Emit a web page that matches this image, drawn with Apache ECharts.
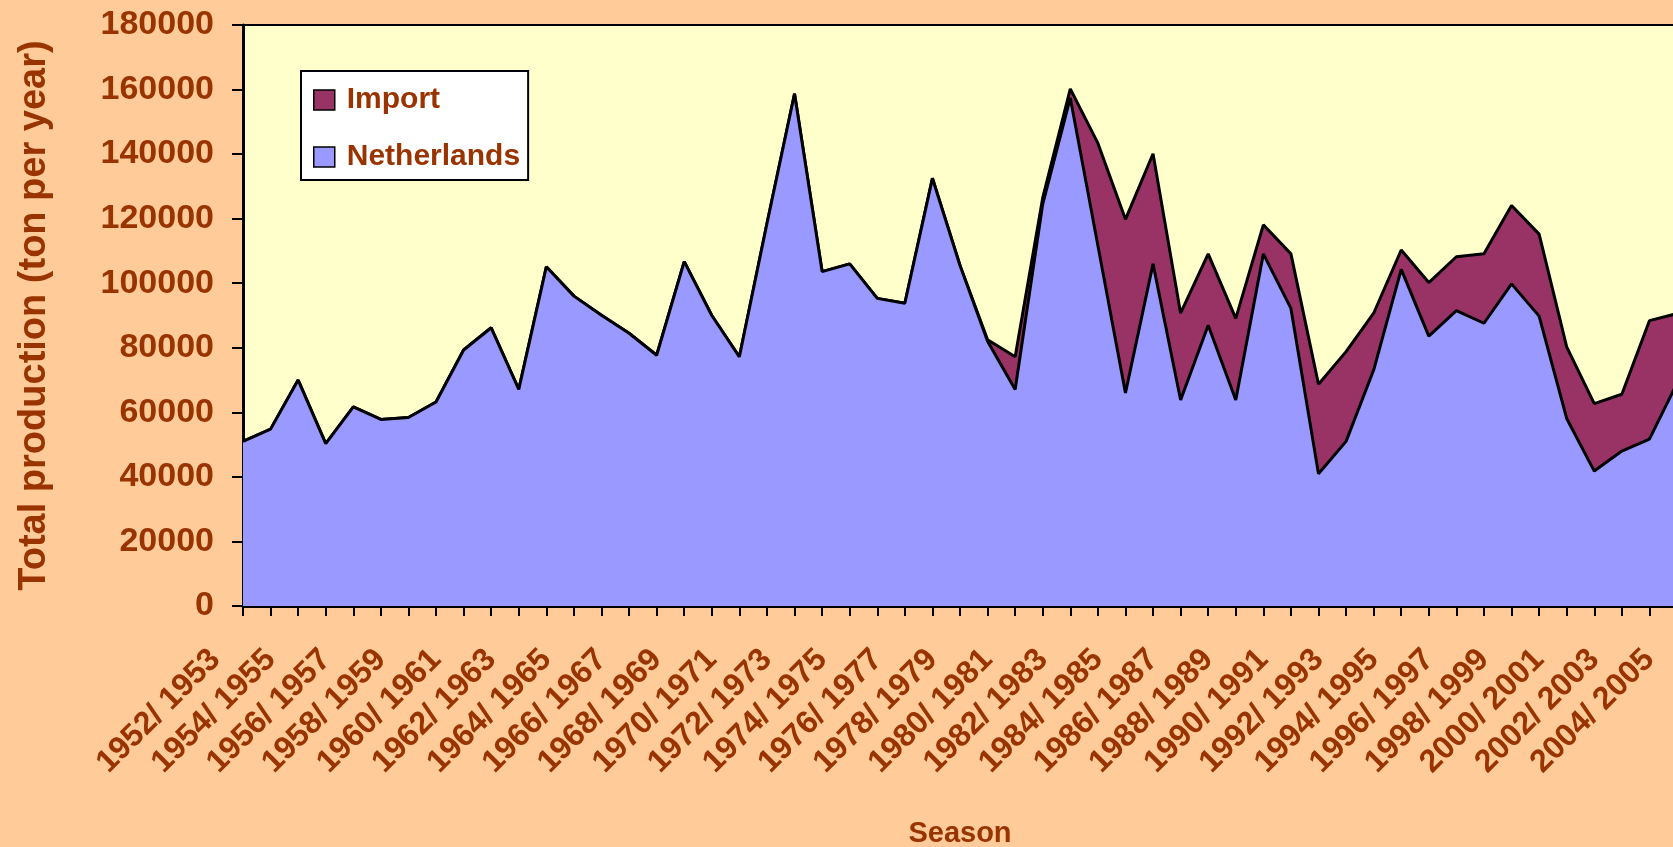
<!DOCTYPE html>
<html>
<head>
<meta charset="utf-8">
<title>Total production</title>
<script src="https://cdn.jsdelivr.net/npm/echarts/dist/echarts.min.js"></script>
<style>
  html, body { margin: 0; padding: 0; background: #FFCC99; overflow: hidden; }
  #main { width: 1673px; height: 847px; }
</style>
</head>
<body>
<div id="main"></div>
<script>
var chart = echarts.init(document.getElementById('main'));

var seasons = ['1952/ 1953', '1953/ 1954', '1954/ 1955', '1955/ 1956', '1956/ 1957', '1957/ 1958',
  '1958/ 1959', '1959/ 1960', '1960/ 1961', '1961/ 1962', '1962/ 1963', '1963/ 1964', '1964/ 1965',
  '1965/ 1966', '1966/ 1967', '1967/ 1968', '1968/ 1969', '1969/ 1970', '1970/ 1971', '1971/ 1972',
  '1972/ 1973', '1973/ 1974', '1974/ 1975', '1975/ 1976', '1976/ 1977', '1977/ 1978', '1978/ 1979',
  '1979/ 1980', '1980/ 1981', '1981/ 1982', '1982/ 1983', '1983/ 1984', '1984/ 1985', '1985/ 1986',
  '1986/ 1987', '1987/ 1988', '1988/ 1989', '1989/ 1990', '1990/ 1991', '1991/ 1992', '1992/ 1993',
  '1993/ 1994', '1994/ 1995', '1995/ 1996', '1996/ 1997', '1997/ 1998', '1998/ 1999', '1999/ 2000',
  '2000/ 2001', '2001/ 2002', '2002/ 2003', '2003/ 2004', '2004/ 2005'];

var netherlands = [51000, 54800, 70000, 50300, 61700, 57800, 58400, 63200, 79300, 86200,
  67100, 105100, 96000, 90100, 84500, 77700, 106700, 90000, 77200, 118500,
  158700, 103600, 106000, 95300, 93800, 132500, 105500, 82000, 67100, 124500,
  157400, 111700, 66000, 106000, 63800, 87000, 63800, 109100, 92200, 41000,
  51000, 73100, 104300, 83600, 91500, 87600, 99800, 89800, 58100, 41800,
  48000, 51700, 69000];

var importTon = [0, 0, 0, 0, 0, 0, 0, 0, 0, 0,
  0, 0, 0, 0, 0, 0, 0, 0, 0, 0,
  0, 0, 0, 0, 0, 0, 0, 500, 10100, 2000,
  2800, 31700, 53800, 34100, 26900, 22100, 25300, 9000, 16900, 27700,
  27800, 17600, 6000, 16600, 16700, 21500, 24300, 25400, 22200, 20900,
  17600, 36700, 21600];

var yTicks = [0, 180000, 20000]; // min, max, step

var brown = '#993300';
var font = "'Liberation Sans', Arial, sans-serif";

var option = {
  backgroundColor: '#FFCC99',
  textStyle: { fontFamily: font },
  grid: {
    left: 243,
    top: 25,
    right: -4,
    bottom: 241,
    outerBoundsMode: 'none',
    containLabel: false,
    show: true,
    backgroundColor: '#FFFFCC',
    borderColor: '#000',
    borderWidth: 2
  },
  legend: {
    data: [
      { name: 'Import', itemStyle: { color: '#993366' } },
      { name: 'Netherlands', itemStyle: { color: '#9999FF' } }
    ],
    orient: 'vertical',
    left: 301,
    top: 71,
    backgroundColor: '#fff',
    borderColor: '#000',
    borderWidth: 2,
    padding: [14, 8, 8, 12],
    itemWidth: 21,
    itemHeight: 20,
    itemGap: 27,
    icon: 'rect',
    selectedMode: false,
    itemStyle: { borderColor: '#000', borderWidth: 1.5 },
    textStyle: {
      color: brown,
      fontSize: 30,
      fontWeight: 'bold',
      fontFamily: font,
      padding: [0, 0, 0, 7]
    }
  },
  xAxis: {
    type: 'category',
    boundaryGap: false,
    data: seasons,
    name: 'Season',
    nameLocation: 'middle',
    nameGap: 213,
    nameTextStyle: { color: brown, fontSize: 29, fontWeight: 'bold', fontFamily: font },
    axisLine: { lineStyle: { color: '#000', width: 3 } },
    axisTick: { interval: 0, length: 10, lineStyle: { color: '#000', width: 2 } },
    axisLabel: {
      interval: 1,
      rotate: 45,
      margin: 21,
      padding: [0, 39, 0, 0],
      color: brown,
      fontSize: 32,
      fontWeight: 'bold',
      fontFamily: font
    },
    splitLine: { show: false }
  },
  yAxis: {
    type: 'value',
    min: yTicks[0],
    max: yTicks[1],
    interval: yTicks[2],
    name: 'Total production (ton per year)',
    nameLocation: 'middle',
    nameGap: 189,
    nameTextStyle: { color: brown, fontSize: 38, fontWeight: 'bold', fontFamily: font },
    axisLine: { show: true, lineStyle: { color: '#000', width: 3 } },
    axisTick: { show: true, length: 11, lineStyle: { color: '#000', width: 2 } },
    axisLabel: {
      margin: 29,
      color: brown,
      fontSize: 34,
      fontWeight: 'bold',
      fontFamily: font,
      formatter: function (value) {
        return String(value);
      }
    },
    splitLine: { show: false }
  },
  series: [
    {
      name: 'Netherlands',
      type: 'line',
      stack: 'total',
      data: netherlands,
      symbol: 'none',
      z: 3,
      itemStyle: { color: '#9999FF' },
      lineStyle: { color: '#000', width: 3 },
      areaStyle: { color: '#9999FF', opacity: 1 }
    },
    {
      name: 'Import',
      type: 'line',
      stack: 'total',
      data: importTon,
      symbol: 'none',
      z: 2,
      itemStyle: { color: '#993366' },
      lineStyle: { color: '#000', width: 3 },
      areaStyle: { color: '#993366', opacity: 1 }
    }
  ]
};

chart.setOption(option);
</script>
</body>
</html>
